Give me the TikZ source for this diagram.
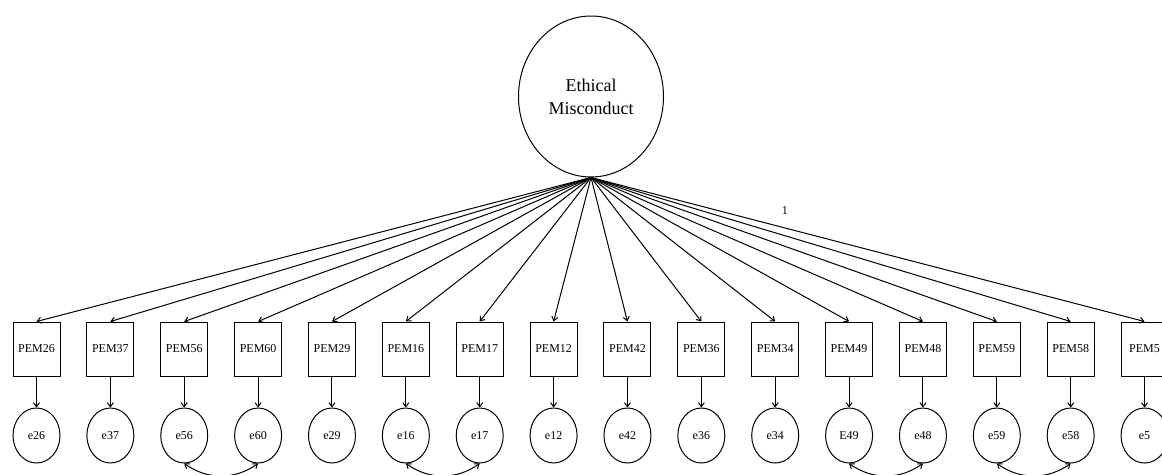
\documentclass[tikz,border=0pt]{standalone}
\usepackage{fontspec}
\setmainfont{Liberation Serif}
\usetikzlibrary{arrows.meta, positioning, shapes.geometric}
\tikzstyle{item} = [draw, rectangle, line width=1pt, inner sep=0pt,
    minimum height=54pt, minimum width=47pt]
\tikzstyle{err} = [draw, ellipse, line width=1pt, inner sep=0pt,
    minimum height=55pt, minimum width=47pt]
\tikzstyle{latent} = [draw, ellipse, line width=1pt, inner sep=0pt,
    minimum height=161pt, minimum width=145pt, align=center,
    font=\fontsize{18pt}{23pt}\selectfont]
\tikzstyle{arrow} = [arrows=->, line width=1pt, black]
\tikzstyle{covar} = [arrows=<->, line width=1pt, black]

\begin{document}
\begin{tikzpicture}[x=1pt, y=1pt, >={Straight Barb[length=4pt,width=6pt]},
    node distance=25.87pt]
    \fontsize{12pt}{14pt}\selectfont
    \useasboundingbox (0,0) rectangle (1162,-474);

    % Place the latent factor
    \node [latent] (ethic) at (591,-96.5) {Ethical\\Misconduct};

    % Place the items
    \node [item] (pem26) at (36.5,-349) {PEM26};
    \node [item, right=of pem26] (pem37) {PEM37};
    \node [item, right=of pem37] (pem56) {PEM56};
    \node [item, right=of pem56] (pem60) {PEM60};
    \node [item, right=of pem60] (pem29) {PEM29};
    \node [item, right=of pem29] (pem16) {PEM16};
    \node [item, right=of pem16] (pem17) {PEM17};
    \node [item, right=of pem17] (pem12) {PEM12};
    \node [item, right=of pem12] (pem42) {PEM42};
    \node [item, right=of pem42] (pem36) {PEM36};
    \node [item, right=of pem36] (pem34) {PEM34};
    \node [item, right=of pem34] (pem49) {PEM49};
    \node [item, right=of pem49] (pem48) {PEM48};
    \node [item, right=of pem48] (pem59) {PEM59};
    \node [item, right=of pem59] (pem58) {PEM58};
    \node [item, right=of pem58] (pem5) {PEM5};

    % Place the error terms
    \node [err, below=31pt of pem26] (e26) {e26};
    \node [err, below=31pt of pem37] (e37) {e37};
    \node [err, below=31pt of pem56] (e56) {e56};
    \node [err, below=31pt of pem60] (e60) {e60};
    \node [err, below=31pt of pem29] (e29) {e29};
    \node [err, below=31pt of pem16] (e16) {e16};
    \node [err, below=31pt of pem17] (e17) {e17};
    \node [err, below=31pt of pem12] (e12) {e12};
    \node [err, below=31pt of pem42] (e42) {e42};
    \node [err, below=31pt of pem36] (e36) {e36};
    \node [err, below=31pt of pem34] (e34) {e34};
    \node [err, below=31pt of pem49] (e49) {E49};
    \node [err, below=31pt of pem48] (e48) {e48};
    \node [err, below=31pt of pem59] (e59) {e59};
    \node [err, below=31pt of pem58] (e58) {e58};
    \node [err, below=31pt of pem5] (e5) {e5};

    % Connect the factor to the items
    \draw [arrow] (ethic.south) -- (pem26.north);
    \draw [arrow] (ethic.south) -- (pem37.north);
    \draw [arrow] (ethic.south) -- (pem56.north);
    \draw [arrow] (ethic.south) -- (pem60.north);
    \draw [arrow] (ethic.south) -- (pem29.north);
    \draw [arrow] (ethic.south) -- (pem16.north);
    \draw [arrow] (ethic.south) -- (pem17.north);
    \draw [arrow] (ethic.south) -- (pem12.north);
    \draw [arrow] (ethic.south) -- (pem42.north);
    \draw [arrow] (ethic.south) -- (pem36.north);
    \draw [arrow] (ethic.south) -- (pem34.north);
    \draw [arrow] (ethic.south) -- (pem49.north);
    \draw [arrow] (ethic.south) -- (pem48.north);
    \draw [arrow] (ethic.south) -- (pem59.north);
    \draw [arrow] (ethic.south) -- (pem58.north);
    \draw [arrow] (ethic.south) -- node[pos=0.35, above=9pt] {1} (pem5.north);

    % Connect the items to the errors
    \draw [arrow] (pem26) -- (e26);
    \draw [arrow] (pem37) -- (e37);
    \draw [arrow] (pem56) -- (e56);
    \draw [arrow] (pem60) -- (e60);
    \draw [arrow] (pem29) -- (e29);
    \draw [arrow] (pem16) -- (e16);
    \draw [arrow] (pem17) -- (e17);
    \draw [arrow] (pem12) -- (e12);
    \draw [arrow] (pem42) -- (e42);
    \draw [arrow] (pem36) -- (e36);
    \draw [arrow] (pem34) -- (e34);
    \draw [arrow] (pem49) -- (e49);
    \draw [arrow] (pem48) -- (e48);
    \draw [arrow] (pem59) -- (e59);
    \draw [arrow] (pem58) -- (e58);
    \draw [arrow] (pem5) -- (e5);

    % Error covariances
    \draw [covar] (e56.south) to[bend right=35] (e60.south);
    \draw [covar] (e16.south) to[bend right=35] (e17.south);
    \draw [covar] (e49.south) to[bend right=35] (e48.south);
    \draw [covar] (e59.south) to[bend right=35] (e58.south);
\end{tikzpicture}
\end{document}
